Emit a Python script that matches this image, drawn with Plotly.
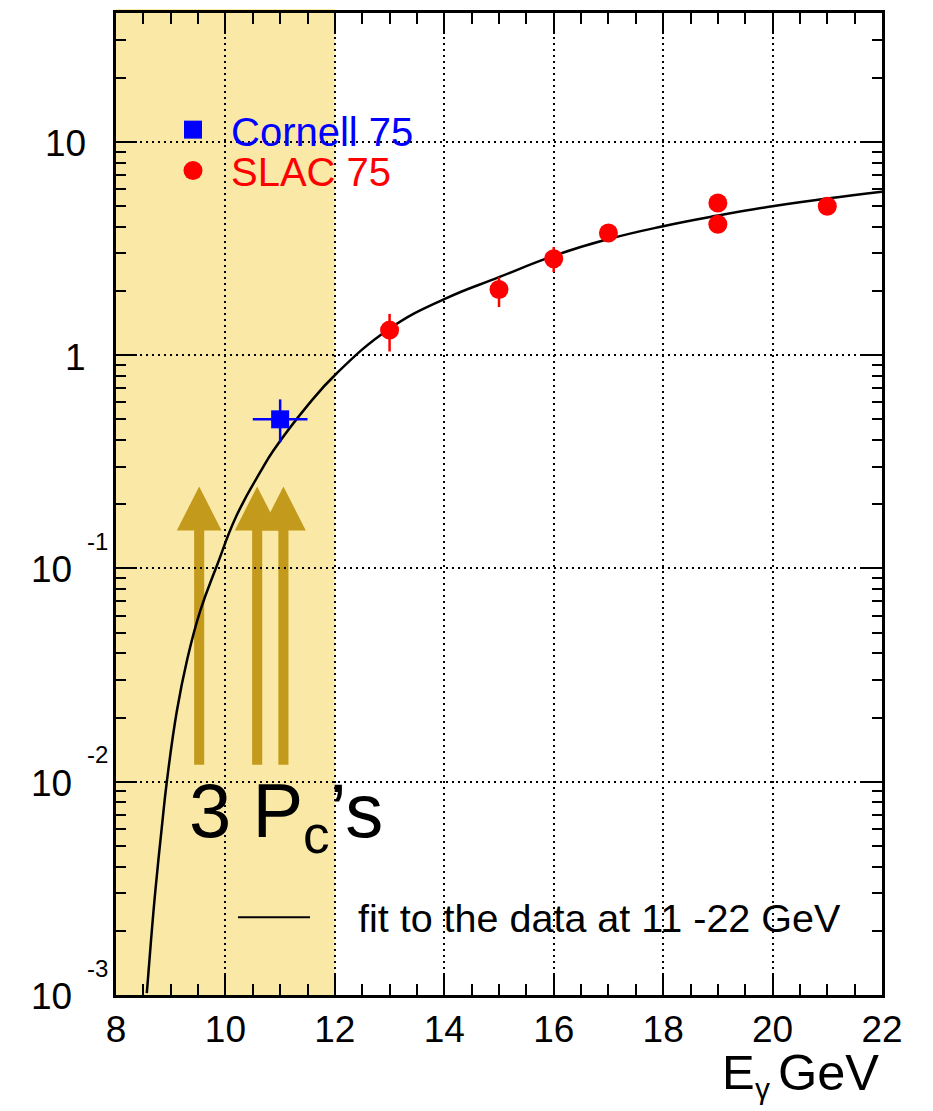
import math
import plotly.graph_objects as go

# Cornell 1975 measurement
cornell_e = [11.0]
cornell_e_err = [0.5]
cornell_xsec = [0.50]
cornell_err_up = [0.12]
cornell_err_dn = [0.11]

# SLAC 1975 measurements
slac_e = [13, 15, 16, 17, 19, 19, 21]
slac_xsec = [1.31, 2.03, 2.83, 3.74, 5.17, 4.11, 4.99]
slac_err_up = [0.25, 0.29, 0.38, 0.30, 0.30, 0.30, 0.30]
slac_err_dn = [0.27, 0.35, 0.38, 0.30, 0.30, 0.30, 0.30]

# fit to the data at 11-22 GeV (sampled curve)
fit_e = [8.563, 8.636, 8.715, 8.838, 8.930, 9.113, 9.296, 9.539, 9.85, 10.2, 10.64,
         10.88, 11.5, 12.03, 13, 14, 15, 16, 17, 18, 19, 20, 21, 22]
fit_xsec = [0.00102, 0.00175, 0.0030, 0.00614, 0.01005, 0.0215, 0.0369, 0.0632,
            0.104, 0.176, 0.284, 0.358, 0.58, 0.82, 1.33, 1.83, 2.32, 2.92,
            3.50, 4.02, 4.51, 4.99, 5.42, 5.84]

# photon energies of the three Pc thresholds
pc_thresholds = [9.52, 10.58, 11.06]

# axes
x_range = [8, 22]
x_tick_labels = ["8", "10", "12", "14", "16", "18", "20", "22"]
y_log_range = [-3, 1.604]
y_decades = [1e-3, 1e-2, 1e-1, 1, 10]
y_decade_labels = [("10", "-3"), ("10", "-2"), ("10", "-1"), ("1", None), ("10", None)]
shaded_region = [8, 12]

FONT = "Liberation Sans, Arial, Helvetica, sans-serif"
W, H = 933, 1111
ML, MR, MT, MB = 116, 51, 10, 116
PW, PH = W - ML - MR, H - MT - MB
SPAN = y_log_range[1] - y_log_range[0]


def pxx(x):
    return (x - ML) / PW


def pxy(y):
    return (H - MB - y) / PH


def ypix(val):
    return (H - MB) - (math.log10(val) - y_log_range[0]) / SPAN * PH


fig = go.Figure()

fig.add_trace(go.Scatter(
    x=fit_e, y=fit_xsec, mode="lines",
    line=dict(color="black", width=2.5, shape="spline", smoothing=1.3),
    showlegend=False, hoverinfo="skip"))

fig.add_trace(go.Scatter(
    x=cornell_e, y=cornell_xsec, mode="markers",
    marker=dict(symbol="square", size=18, color="#0000ff"),
    error_x=dict(type="data", array=cornell_e_err, color="#0000ff", thickness=2.5, width=0),
    error_y=dict(type="data", array=cornell_err_up, arrayminus=cornell_err_dn,
                 color="#0000ff", thickness=2.5, width=0),
    showlegend=False))

fig.add_trace(go.Scatter(
    x=slac_e, y=slac_xsec, mode="markers",
    marker=dict(symbol="circle", size=19, color="#ff0000"),
    error_y=dict(type="data", array=slac_err_up, arrayminus=slac_err_dn,
                 color="#ff0000", thickness=2.5, width=0),
    showlegend=False))

# legend keys
key_x = 8 + (193 - ML) / PW * (x_range[1] - x_range[0])
fig.add_trace(go.Scatter(
    x=[key_x], y=[10 ** (y_log_range[0] + pxy(127) * SPAN)],
    mode="markers", marker=dict(symbol="square", size=18, color="#0000ff"),
    showlegend=False, hoverinfo="skip"))
fig.add_trace(go.Scatter(
    x=[key_x], y=[10 ** (y_log_range[0] + pxy(168) * SPAN)],
    mode="markers", marker=dict(symbol="circle", size=19, color="#ff0000"),
    showlegend=False, hoverinfo="skip"))

shapes = []
# shaded energy band
shapes.append(dict(type="rect", xref="x", yref="paper", x0=shaded_region[0], x1=shaded_region[1],
                   y0=0, y1=1.004, fillcolor="#FAE9A6", line=dict(width=0), layer="below"))

# Pc arrows
head_half = 0.409
shaft_half = 0.092
y_tip, y_head, y_base = pxy(485), pxy(529), pxy(764)
for e in pc_thresholds:
    path = (f"M {e - shaft_half},{y_base} L {e - shaft_half},{y_head} L {e - head_half},{y_head} "
            f"L {e},{y_tip} L {e + head_half},{y_head} L {e + shaft_half},{y_head} "
            f"L {e + shaft_half},{y_base} Z")
    shapes.append(dict(type="path", xref="x", yref="paper", path=path,
                       fillcolor="#C49A1C", line=dict(width=0), layer="below"))

# fit legend line
shapes.append(dict(type="line", xref="paper", yref="paper", x0=pxx(238), x1=pxx(310),
                   y0=pxy(917), y1=pxy(917), line=dict(color="black", width=2)))

annotations = []


def text(s, x, y, size, color="black", xanchor="left"):
    annotations.append(dict(text=s, x=pxx(x), y=pxy(y), xref="paper", yref="paper",
                            xanchor=xanchor, yanchor="middle", showarrow=False,
                            font=dict(family=FONT, size=size, color=color),
                            borderpad=0, borderwidth=0))


text("Cornell 75", 231, 129.5, 40, "#0000ff")
text("SLAC 75", 231, 169, 40, "#ff0000")
text("fit to the data at 11 -22 GeV", 358, 918, 39.5)
text("3 P<sub>c</sub>’s", 189, 815, 76)
text("E", 722, 1072.5, 49)
text("γ", 755, 1089, 30)
text("GeV", 778, 1072.5, 50.5)

# y axis decade labels
for val, (base, expo) in zip(y_decades, y_decade_labels):
    yp = ypix(val)
    if expo is None:
        text(base, 86, yp + 2, 37, xanchor="right")
    else:
        text(base, 72, yp + 1.5, 37, xanchor="right")
        text(expo, 87, yp - 27, 24)

minor_y = [k * 10 ** d for d in range(-3, 2) for k in range(2, 10)
           if k * 10 ** d < 10 ** y_log_range[1]]

fig.update_layout(
    width=W, height=H,
    margin=dict(l=ML, r=MR, t=MT, b=MB, pad=0),
    paper_bgcolor="white", plot_bgcolor="white",
    shapes=shapes, annotations=annotations,
    font=dict(family=FONT, color="black"),
    xaxis=dict(
        range=x_range, tickmode="array",
        tickvals=[float(t) for t in x_tick_labels], ticktext=x_tick_labels,
        ticks="inside", ticklen=21, tickwidth=2, tickcolor="black",
        showline=True, linewidth=2.5, linecolor="black", mirror="ticks",
        showgrid=True, gridcolor="black", gridwidth=1.5, griddash="2px,4px",
        zeroline=False, tickfont=dict(family=FONT, size=37, color="black"),
        ticklabelstandoff=0,
        minor=dict(dtick=0.5, tick0=8, ticks="inside", ticklen=11, tickwidth=2,
                   tickcolor="black", showgrid=False),
    ),
    yaxis=dict(
        type="log", range=y_log_range, tickmode="array", tickvals=y_decades,
        showticklabels=False,
        ticks="inside", ticklen=21, tickwidth=2, tickcolor="black",
        showline=True, linewidth=2.5, linecolor="black", mirror="ticks",
        showgrid=True, gridcolor="black", gridwidth=1.5, griddash="2px,4px",
        zeroline=False,
        minor=dict(tickvals=minor_y, ticks="inside", ticklen=10, tickwidth=2,
                   tickcolor="black", showgrid=False),
    ),
)

fig.write_html("out.html")
